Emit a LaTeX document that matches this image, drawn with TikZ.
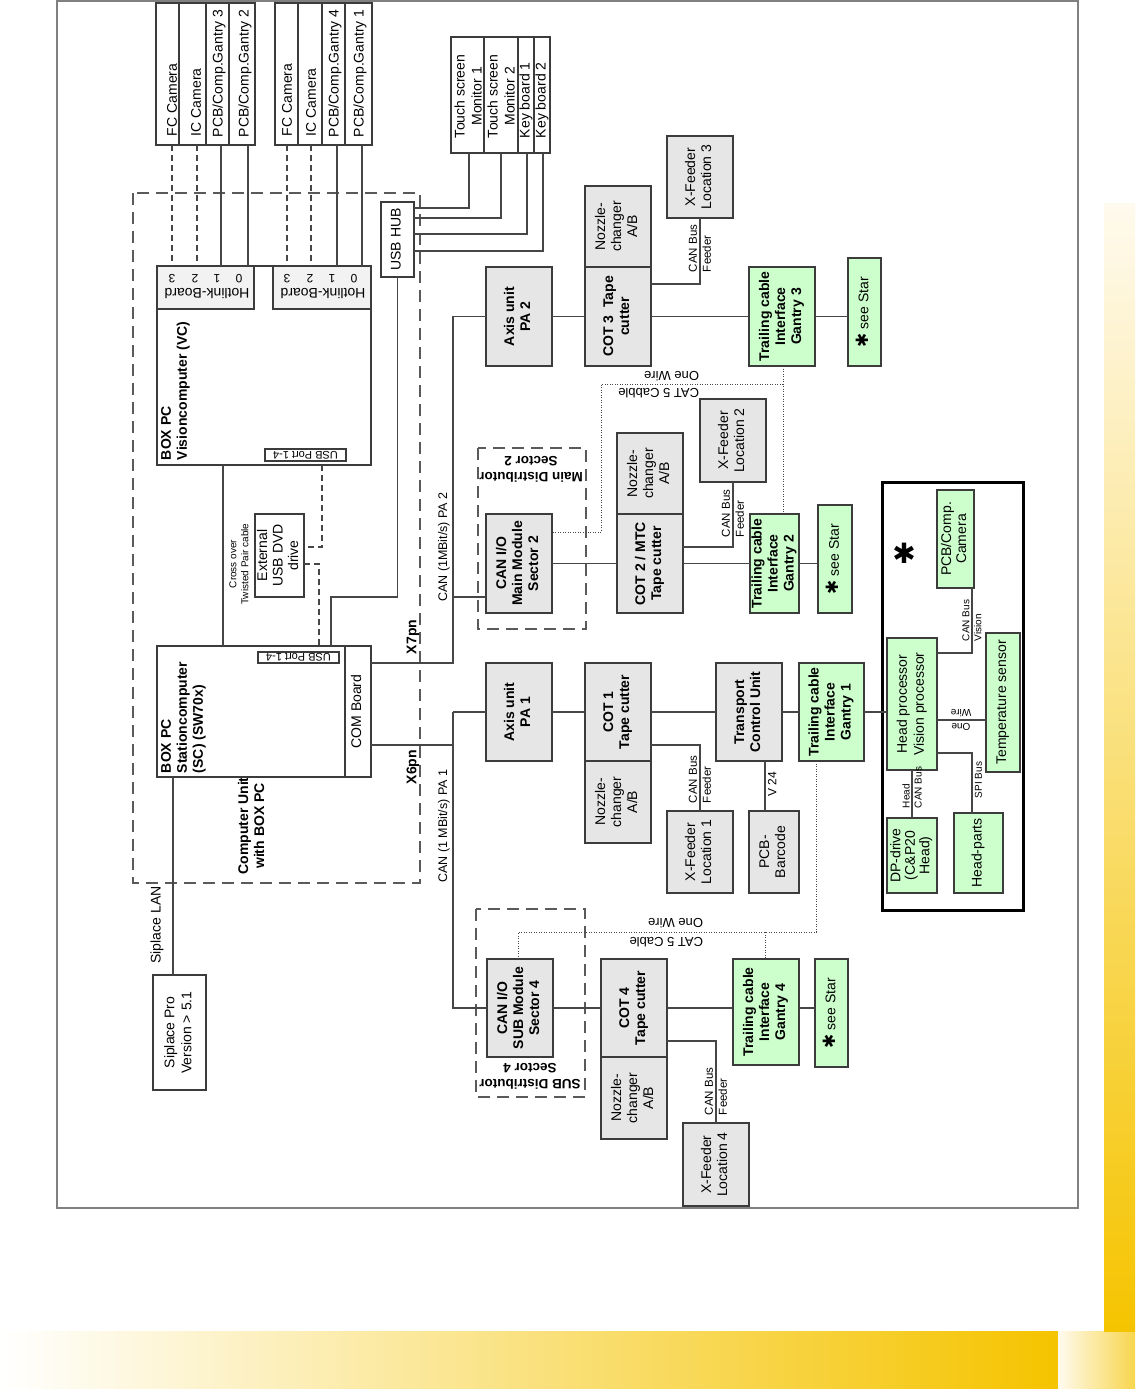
\documentclass[tikz,border=0pt]{standalone}
\usepackage{fontspec}
\setmainfont{Liberation Sans}
\newfontfamily\djv{DejaVu Sans}
\newcommand\fsz[2]{\fontsize{#1}{#2}\selectfont}
\newcommand\rt[1]{\rotatebox{90}{\begin{tabular}{@{}c@{}}#1\end{tabular}}}
\newcommand\bx[7]{\node[#1, minimum width={(#5)-(#3)}, minimum height={(#6)-(#4)}] (#2) at ({((#3)+(#5))/2},{((#4)+(#6))/2}) {#7};}
\newcommand\starglyph[1]{{\djv\bfseries\fsz{#1}{#1}✱}}
\definecolor{bdc}{RGB}{60,60,60}
\definecolor{lnc}{RGB}{70,70,70}
\definecolor{gfill}{RGB}{230,230,230}
\definecolor{grfill}{RGB}{204,255,204}
\definecolor{lgf}{RGB}{242,242,242}
\definecolor{grpc}{RGB}{90,90,90}
\definecolor{frc}{RGB}{128,128,128}
\definecolor{ylw}{RGB}{245,196,0}
\definecolor{ylwtop}{RGB}{255,250,238}
\tikzset{
 every node/.style={inner sep=0pt, outer sep=0pt},
 box/.style={draw=bdc, line width=1.1pt, font=\fsz{14}{16}},
 gb/.style={box, fill=gfill},
 gbb/.style={gb, font=\fsz{14}{16}\bfseries},
 gn/.style={box, fill=grfill},
 gnb/.style={gn, font=\fsz{14}{16}\bfseries},
 wb/.style={box, fill=white},
 lb/.style={box, fill=lgf},
 vt/.style={rotate=90, font=\fsz{14}{17}},
 vtb/.style={rotate=90, font=\fsz{14}{16}\bfseries},
 ut/.style={rotate=180, font=\fsz{13}{16}},
 sm/.style={rotate=90, align=left, font=\fsz{11.5}{14}},
 tiny/.style={font=\fsz{10}{12}},
 ln/.style={draw=lnc, line width=1.1pt},
 dl/.style={ln, dash pattern=on 6pt off 4pt},
 dt/.style={draw=lnc, line width=0.9pt, dash pattern=on 1pt off 1.5pt},
 grp/.style={draw=grpc, line width=1.1pt, dash pattern=on 12pt off 7pt},
}
\begin{document}
\begin{tikzpicture}[x=1pt,y=-1pt]
\useasboundingbox (0,0) rectangle (1135,1389);
\fill[white] (0,0) rectangle (1135,1389);
% decoration
\shade[left color=white, right color=ylw] (0,1331) rectangle (1053,1389);
\fill[ylw] (1053,1331) rectangle (1058,1389);
\shade[left color=ylwtop, right color=ylw!70] (1058,1331) rectangle (1135,1389);
\shade[top color=ylwtop, bottom color=ylw] (1104,203) rectangle (1135,1331);
\draw[draw=frc, line width=1.2pt] (57,1) rectangle (1078,1208);

% computer unit group
\draw[grp] (133,193) rectangle (420,883);
\node[vtb, align=center] (cul) at (251,826) {Computer Unit\\with BOX PC};

% cameras
\bx{wb}{c1a}{156}{3}{179}{145}{}
\bx{wb}{c1b}{179}{3}{206}{145}{}
\bx{wb}{c1c}{206}{3}{229}{145}{}
\bx{wb}{c1d}{229}{3}{255}{145}{}
\bx{wb}{c2a}{275}{3}{298}{145}{}
\bx{wb}{c2b}{298}{3}{322}{145}{}
\bx{wb}{c2c}{322}{3}{345}{145}{}
\bx{wb}{c2d}{345}{3}{372}{145}{}
\node[vt, anchor=west] (t1a) at (172,136) {FC Camera};
\node[vt, anchor=west] (t1b) at (196,136) {IC Camera};
\node[vt, anchor=west] (t1c) at (219,137) {PCB/Comp.Gantry 3};
\node[vt, anchor=west] (t1d) at (245,137) {PCB/Comp.Gantry 2};
\node[vt, anchor=west] (t2a) at (287,136) {FC Camera};
\node[vt, anchor=west] (t2b) at (311,136) {IC Camera};
\node[vt, anchor=west] (t2c) at (335,137) {PCB/Comp.Gantry 4};
\node[vt, anchor=west] (t2d) at (360,137) {PCB/Comp.Gantry 1};

% touch screens
\bx{wb}{ts1}{451}{37}{484}{153}{}
\bx{wb}{ts2}{484}{37}{518}{153}{}
\bx{wb}{ts3}{518}{37}{534}{153}{}
\bx{wb}{ts4}{534}{37}{550}{153}{}
\node[vt, anchor=west, align=center] (tt1) at (468,138) {Touch screen\\Monitor 1};
\node[vt, anchor=west, align=center] (tt2) at (501,138) {Touch screen\\Monitor 2};
\node[vt, anchor=west] (tt3) at (526,138) {Key board 1};
\node[vt, anchor=west] (tt4) at (542,138) {Key board 2};

% vision computer
\bx{wb}{vc}{157}{266}{371}{465}{}
\bx{lb}{hl1}{157}{266}{254}{309}{}
\bx{lb}{hl2}{273}{266}{371}{309}{}
\node[rotate=180, font=\fsz{14}{16}] (hl1t) at (207,294) {Hotlink-Board};
\node[rotate=180, font=\fsz{14}{16}] (hl2t) at (323,294) {Hotlink-Board};
\foreach \xx/\nn in {172/3,195/2,217/1,239/0,287/3,310/2,332/1,354/0}
  \node[rotate=180, font=\fsz{12}{14}] (hn\xx) at (\xx,279) {\nn};
\node[rotate=90, anchor=north west, align=left, font=\fsz{14}{16}\bfseries] (vct) at (161,460) {BOX PC\\Visioncomputer (VC)};
\bx{wb}{usbv}{265}{449}{346}{461}{}
\node[rotate=180, font=\fsz{11}{12}] (usbvt) at (usbv) {USB Port 1-4};

% USB hub
\bx{wb}{hub}{381}{202}{414}{277}{\rt{USB HUB}}

% station computer
\bx{wb}{sc}{157}{646}{345}{777}{}
\bx{wb}{com}{345}{646}{371}{777}{\rt{COM Board}}
\bx{wb}{usbs}{258}{652}{339}{663}{}
\node[rotate=180, font=\fsz{11}{12}] (usbst) at (usbs) {USB Port 1-4};
\node[rotate=90, anchor=north west, align=left, font=\fsz{14}{16}\bfseries] (sct) at (161,773) {BOX PC\\Stationcomputer\\(SC) (SW70x)};

% DVD
\bx{wb}{dvd}{255}{514}{304}{597}{\fsz{14}{15.5}\rt{External\\USB DVD\\drive}}
\node[rotate=90, align=center, tiny] (cot) at (239,564) {Cross over\\Twisted Pair cable};

% Siplace Pro
\bx{wb}{sp}{153}{975}{206}{1090}{\fsz{14}{17}\rt{Siplace Pro\\Version > 5.1}}
\node[vt] (lan) at (157,925) {Siplace LAN};

% labels of CAN lines
\node[vtb] (x7) at (413,637) {X7pn};
\node[vtb] (x6) at (413,767) {X6pn};
\node[rotate=90, font=\fsz{12.5}{14}] (can2) at (444,547) {CAN (1MBit/s) PA 2};
\node[rotate=90, font=\fsz{12.5}{14}] (can1) at (444,826) {CAN (1 MBit/s) PA 1};

% ---- PA2 row
\bx{gbb}{pa2}{486}{267}{552}{366}{\rt{Axis unit\\PA 2}}
\bx{gbb}{cot3}{585}{267}{651}{366}{\rt{COT 3\ \ Tape\\cutter}}
\bx{gb}{nz3}{585}{186}{651}{267}{\rt{Nozzle-\\changer\\A/B}}
\bx{gb}{xf3}{667}{136}{733}{218}{\rt{X-Feeder\\Location 3}}
\bx{gnb}{tc3}{749}{267}{815}{366}{\rt{Trailing cable\\Interface\\Gantry 3}}
\bx{gn}{ss3}{848}{258}{881}{366}{\rt{\starglyph{17} see Star}}

% ---- sector 2 row
\draw[grp] (478,448) rectangle (586,629);
\node[rotate=180, align=center, font=\fsz{13.5}{16}\bfseries] (md) at (531,469) {Main Distributor\\Sector 2};
\bx{gbb}{cio2}{486}{514}{552}{613}{\rt{CAN I/O\\Main Module\\Sector 2}}
\bx{gbb}{cot2}{617}{514}{683}{613}{\rt{COT 2 / MTC\\Tape cutter}}
\bx{gb}{nz2}{617}{433}{683}{514}{\rt{Nozzle-\\changer\\A/B}}
\bx{gb}{xf2}{700}{399}{766}{482}{\rt{X-Feeder\\Location 2}}
\bx{gnb}{tc2}{750}{514}{799}{613}{\rt{Trailing cable\\Interface\\Gantry 2}}
\bx{gn}{ss2}{818}{505}{852}{613}{\rt{\starglyph{17} see Star}}

% ---- PA1 row
\bx{gbb}{pa1}{486}{663}{552}{761}{\rt{Axis unit\\PA 1}}
\bx{gbb}{cot1}{585}{663}{651}{761}{\rt{COT 1\\Tape cutter}}
\bx{gb}{nz1}{585}{761}{651}{843}{\rt{Nozzle-\\changer\\A/B}}
\bx{gb}{xf1}{667}{811}{733}{893}{\rt{X-Feeder\\Location 1}}
\bx{gbb}{tcu}{716}{663}{782}{761}{\rt{Transport\\Control Unit}}
\bx{gb}{pcbb}{749}{811}{799}{893}{\rt{PCB-\\Barcode}}
\bx{gnb}{tc1}{799}{663}{864}{761}{\rt{Trailing cable\\Interface\\Gantry 1}}

% ---- sector 4 row
\draw[grp] (476,909) rectangle (585,1097);
\node[rotate=180, align=center, font=\fsz{13.5}{16}\bfseries] (sd) at (530,1076) {SUB Distributor\\Sector 4};
\bx{gbb}{cio4}{487}{959}{553}{1057}{\rt{CAN I/O\\SUB Module\\Sector 4}}
\bx{gbb}{cot4}{601}{959}{667}{1057}{\rt{COT 4\\Tape cutter}}
\bx{gb}{nz4}{601}{1057}{667}{1139}{\rt{Nozzle-\\changer\\A/B}}
\bx{gb}{xf4}{683}{1123}{749}{1206}{\rt{X-Feeder\\Location 4}}
\bx{gnb}{tc4}{733}{959}{799}{1065}{\rt{Trailing cable\\Interface\\Gantry 4}}
\bx{gn}{ss4}{815}{959}{848}{1067}{\rt{\starglyph{17} see Star}}

% ---- star box
\bx{draw=black, line width=3pt}{star}{882}{482}{1023}{910}{}
\node (bigstar) at (904,553) {\starglyph{28}};
\bx{gn}{cam}{937}{490}{974}{588}{\fsz{14}{15}\rt{PCB/Comp.\\Camera}}
\bx{gn}{hp}{887}{638}{937}{770}{\fsz{14}{17}\rt{Head processor\\Vision processor}}
\bx{gn}{tsn}{986}{633}{1020}{772}{\rt{Temperature sensor}}
\bx{gn}{dp}{887}{818}{937}{893}{\fsz{14}{14.5}\rt{DP-drive\\(C\&P20\\Head)}}
\bx{gn}{hpt}{954}{813}{1003}{893}{\rt{Head-parts}}

% ================= connectors
% cameras to hotlink boards
\coordinate (ka) at (172,0); \coordinate (kb) at (197,0);
\coordinate (kc) at (221,0); \coordinate (kd) at (248,0);
\coordinate (ke) at (287,0); \coordinate (kf) at (311,0);
\coordinate (kg) at (337,0); \coordinate (kh) at (362,0);
\draw[dl] (c1a.south -| ka) -- (hl1.north -| ka);
\draw[dl] (c1b.south -| kb) -- (hl1.north -| kb);
\draw[ln] (c1c.south -| kc) -- (hl1.north -| kc);
\draw[ln] (c1d.south -| kd) -- (hl1.north -| kd);
\draw[dl] (c2a.south -| ke) -- (hl2.north -| ke);
\draw[dl] (c2b.south -| kf) -- (hl2.north -| kf);
\draw[ln] (c2c.south -| kg) -- (hl2.north -| kg);
\draw[ln] (c2d.south -| kh) -- (hl2.north -| kh);
% touch screens to hub
\coordinate (p1) at (469,208); \coordinate (p2) at (501,218);
\coordinate (p3) at (527,234); \coordinate (p4) at (543,251);
\draw[ln] (ts1.south -| p1) -- (p1) -- (p1 -| hub.east);
\draw[ln] (ts2.south -| p2) -- (p2) -- (p2 -| hub.east);
\draw[ln] (ts3.south -| p3) -- (p3) -- (p3 -| hub.east);
\draw[ln] (ts4.south -| p4) -- (p4) -- (p4 -| hub.east);
% VC to SC etc.
\coordinate (xcv) at (223,0);
\draw[ln] (vc.south -| xcv) -- (sc.north -| xcv);
\coordinate (d1) at (322,547); \coordinate (d2) at (319,564);
\draw[dl] (vc.south -| d1) -- (d1) -- (d1 -| dvd.east);
\draw[dl] (d2 -| dvd.east) -- (d2) -- (d2 |- sc.north);
\coordinate (h2) at (331,597);
\draw[ln] (hub.south) |- (h2) -- (h2 |- sc.north);
% Siplace LAN
\coordinate (xs) at (173,0);
\draw[ln] (sc.south -| xs) -- (sp.north -| xs);
% COM board CAN lines
\coordinate (j7) at (453,663); \coordinate (j7b) at (453,597); \coordinate (j6) at (453,745);
\draw[ln] (com.east |- j7) -- (j7) |- (pa2.west);
\draw[ln] (j7b) -- (j7b -| cio2.west);
\draw[ln] (com.east |- j6) -- (j6);
\draw[ln] (j6 |- pa1.west) -- (j6 |- cio4.west) -- (cio4.west);
\draw[ln] (j6 |- pa1.west) -- (pa1.west);
% PA2 row
\draw[ln] (pa2.east) -- (cot3.west);
\draw[ln] (cot3.east) -- (tc3.west);
\draw[ln] (tc3.east) -- (tc3.east -| ss3.west);
\coordinate (f3) at (700,284);
\draw[ln] (f3 -| cot3.east) -- (f3) -- (f3 |- xf3.south);
\node[sm, anchor=west] (f3t) at (700,272) {CAN Bus\\Feeder};
% sector 2 row
\draw[ln] (cio2.east) -- (cot2.west);
\draw[ln] (cot2.east) -- (tc2.west);
\draw[ln] (tc2.east) -- (tc2.east -| ss2.west);
\coordinate (f2) at (733,547);
\draw[ln] (f2 -| cot2.east) -- (f2) -- (f2 |- xf2.south);
\node[sm, anchor=west] (f2t) at (733,537) {CAN Bus\\Feeder};
% one wire sector 2/3
\coordinate (o1) at (783,384); \coordinate (o2) at (601,384); \coordinate (o3) at (601,532);
\draw[dt] (tc3.south -| o1) -- (tc2.north -| o1);
\draw[dt] (o1) -- (o2) -- (o3) -- (o3 -| cio2.east);
\node[ut, anchor=west] (ow1) at (699,376) {One Wire};
\node[ut, anchor=west] (cc1) at (699,393) {CAT 5 Cabble};
% PA1 row
\draw[ln] (pa1.east) -- (cot1.west);
\draw[ln] (cot1.east) -- (tcu.west);
\draw[ln] (tcu.east) -- (tc1.west);
\draw[ln] (tc1.east) -- (tc1.east -| hp.west);
\coordinate (f1) at (700,745);
\draw[ln] (f1 -| cot1.east) -- (f1) -- (f1 |- xf1.north);
\node[sm, anchor=west] (f1t) at (700,803) {CAN Bus\\Feeder};
\coordinate (xv) at (765,0);
\draw[ln] (tcu.south -| xv) -- (pcbb.north -| xv);
\node[rotate=90, anchor=north, font=\fsz{12}{14}] (v24) at (768,784) {V 24};
% one wire sector 1/4
\coordinate (q1) at (816,932); \coordinate (q2) at (518,932); \coordinate (q3) at (765,932);
\draw[dt] (tc1.south -| q1) -- (q1) -- (q2) -- (q2 |- cio4.north);
\draw[dt] (q3) -- (q3 |- tc4.north);
\node[ut, anchor=west] (ow2) at (703,923) {One Wire};
\node[ut, anchor=west] (cc2) at (703,942) {CAT 5 Cable};
% sector 4 row
\draw[ln] (cio4.east) -- (cot4.west);
\draw[ln] (cot4.east) -- (cot4.east -| tc4.west);
\draw[ln] (cot4.east -| tc4.east) -- (cot4.east -| ss4.west);
\coordinate (f4) at (716,1041);
\draw[ln] (f4 -| cot4.east) -- (f4) -- (f4 |- xf4.north);
\node[sm, anchor=west] (f4t) at (716,1115) {CAN Bus\\Feeder};
% star box
\coordinate (v1) at (972,653);
\draw[ln] (v1 -| hp.east) -- (v1) -- (v1 |- cam.south);
\node[rotate=90, anchor=west, align=left, tiny] (cbv) at (972,641) {CAN Bus\\Vision};
\coordinate (w1) at (961,720);
\draw[ln] (w1 -| hp.east) -- (w1 -| tsn.west);
\node[rotate=180, align=center, font=\fsz{10}{14}] (owt) at (w1) {One\\Wire};
\coordinate (s1) at (972,753);
\draw[ln] (s1 -| hp.east) -- (s1) -- (s1 |- hpt.north);
\node[rotate=90, anchor=north west, tiny] (spi) at (975,798) {SPI Bus};
\coordinate (dd) at (912,0);
\draw[ln] (hp.south -| dd) -- (dp.north -| dd);
\node[rotate=90, anchor=west, align=left, tiny] (hcb) at (912,808) {Head\\CAN Bus};
\end{tikzpicture}
\end{document}
